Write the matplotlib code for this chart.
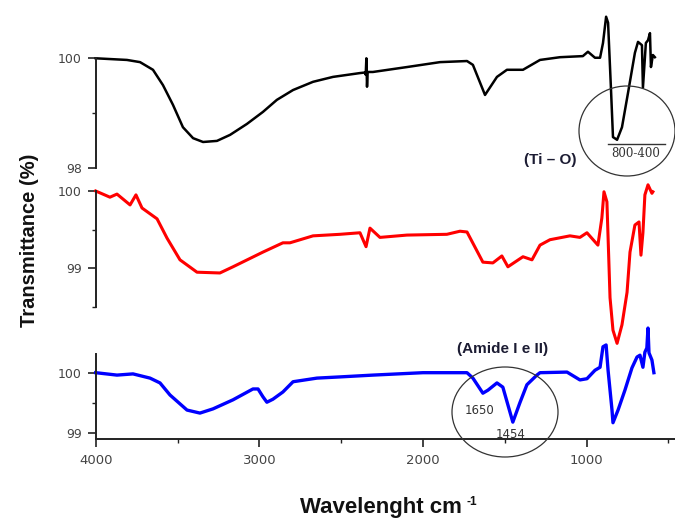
import matplotlib
matplotlib.use("Agg")
import matplotlib.pyplot as plt
from matplotlib.patches import Ellipse
from matplotlib.ticker import FixedLocator

# ---------------- data ----------------
wn_black = [4000, 3809, 3729, 3650, 3589, 3528, 3467, 3405, 3344, 3259, 3179, 3076,
            2978, 2893, 2794, 2672, 2550, 2385, 2355, 2350, 2346, 2342, 2338, 2306,
            2098, 1896, 1731, 1695, 1621, 1548, 1487, 1389, 1285, 1163, 1023, 992,
            949, 918, 900, 881, 869, 851, 839, 814, 784, 747, 705, 686, 662, 656,
            638, 625, 613, 607, 595, 583]
t_black = [100.00, 99.97, 99.93, 99.79, 99.51, 99.15, 98.74, 98.54, 98.47, 98.49, 98.60, 98.80,
           99.02, 99.24, 99.42, 99.57, 99.66, 99.73, 99.74, 99.70, 100.00, 99.48, 99.75, 99.75,
           99.84, 99.93, 99.95, 99.88, 99.33, 99.66, 99.79, 99.79, 99.97, 100.02, 100.04, 100.12,
           100.01, 100.01, 100.28, 100.76, 100.65, 99.42, 98.56, 98.51, 98.74, 99.37, 100.10, 100.30,
           100.24, 99.46, 100.28, 100.33, 100.46, 99.84, 100.06, 100.02]

wn_red = [4000, 3913, 3870, 3790, 3754, 3717, 3625, 3564, 3485, 3381, 3241, 3161,
          2978, 2856, 2813, 2672, 2507, 2385, 2348, 2324, 2263, 2098, 1854, 1774,
          1731, 1634, 1573, 1518, 1481, 1389, 1334, 1285, 1224, 1102, 1041, 998,
          931, 907, 894, 876, 857, 839, 814, 784, 753, 735, 705, 680, 668, 656,
          644, 625, 601, 595]
t_red = [100.00, 99.92, 99.96, 99.82, 99.95, 99.78, 99.64, 99.39, 99.11, 98.95, 98.94, 99.02,
         99.21, 99.33, 99.33, 99.42, 99.44, 99.46, 99.28, 99.52, 99.40, 99.43, 99.44, 99.48,
         99.47, 99.08, 99.07, 99.16, 99.02, 99.15, 99.11, 99.30, 99.37, 99.42, 99.40, 99.46,
         99.30, 99.65, 99.99, 99.86, 98.62, 98.20, 98.03, 98.27, 98.69, 99.21, 99.56, 99.60,
         99.17, 99.46, 99.95, 100.08, 99.97, 99.99]

wn_blue = [4000, 3870, 3772, 3668, 3607, 3546, 3442, 3363, 3283, 3161, 3039, 3008,
           2978, 2954, 2917, 2856, 2794, 2648, 2507, 2306, 2000, 1731, 1695, 1634,
           1603, 1548, 1512, 1451, 1408, 1365, 1304, 1285, 1120, 1041, 998, 949,
           918, 900, 881, 869, 845, 839, 808, 766, 723, 692, 674, 656, 644, 632,
           625, 619, 601, 589]
t_blue = [100.00, 99.96, 99.98, 99.91, 99.83, 99.63, 99.38, 99.33, 99.40, 99.55, 99.73, 99.73,
          99.60, 99.51, 99.56, 99.68, 99.85, 99.91, 99.93, 99.96, 100.00, 100.00, 99.91, 99.66,
          99.71, 99.83, 99.76, 99.18, 99.50, 99.80, 99.96, 100.00, 100.01, 99.88, 99.90, 100.04,
          100.09, 100.43, 100.46, 100.04, 99.38, 99.17, 99.38, 99.71, 100.08, 100.26, 100.29, 100.09,
          100.34, 100.41, 100.74, 100.33, 100.21, 100.00]

x_major = [4000, 3000, 2000, 1000]
x_minor = [3500, 2500, 1500, 500]

# ---------------- figure ----------------
W, H = 675, 520
fig = plt.figure(figsize=(W / 100, H / 100), dpi=100)

def fx(px):
    return px / W

def fy(py):
    return 1 - py / H

left = fx(95.7)
width = 1 - left
XLIM = (4000, 460)
spine_col = "#222222"
tick_col = "#444444"

def make_axes(top_px, bot_px, ylim, yt_major, yt_minor, show_x=False):
    ax = fig.add_axes([left, fy(bot_px), width, (bot_px - top_px) / H])
    ax.set_xlim(*XLIM)
    ax.set_ylim(*ylim)
    for s in ["top", "right"]:
        ax.spines[s].set_visible(False)
    ax.spines["left"].set_color(spine_col)
    ax.spines["left"].set_linewidth(1.4)
    ax.yaxis.set_major_locator(FixedLocator(yt_major))
    ax.yaxis.set_minor_locator(FixedLocator(yt_minor))
    ax.set_yticklabels([f"{v:g}" for v in yt_major])
    ax.tick_params(axis="y", which="major", direction="out", length=6, width=1.2,
                   colors=spine_col, labelcolor=tick_col, labelsize=9, pad=4)
    ax.tick_params(axis="y", which="minor", direction="out", length=3, width=1.0,
                   colors=spine_col)
    if show_x:
        ax.spines["bottom"].set_color(spine_col)
        ax.spines["bottom"].set_linewidth(1.4)
        ax.xaxis.set_major_locator(FixedLocator(x_major))
        ax.xaxis.set_minor_locator(FixedLocator(x_minor))
        ax.set_xticklabels([str(v) for v in x_major])
        ax.tick_params(axis="x", which="major", direction="out", length=6, width=1.2,
                       colors=spine_col, labelcolor=tick_col, labelsize=9.5, pad=5)
        ax.tick_params(axis="x", which="minor", direction="out", length=3, width=1.0,
                       colors=spine_col)
    else:
        ax.spines["bottom"].set_visible(False)
        ax.set_xticks([])
    ax.patch.set_alpha(0)
    return ax

ax_top = make_axes(58.3, 167.7, (98, 100), [98, 100], [99])
ax_mid = make_axes(191, 307, (98.5, 100), [99, 100], [98.5, 99.5])
ax_bot = make_axes(354, 439, (98.9, 100.31), [99, 100], [99.5], show_x=True)

ax_top.plot(wn_black, t_black, color="black", lw=1.8, clip_on=False, solid_joinstyle="round")
ax_mid.plot(wn_red, t_red, color="#ff0000", lw=2.2, clip_on=False, solid_joinstyle="round")
ax_bot.plot(wn_blue, t_blue, color="#0000ff", lw=2.4, clip_on=False, solid_joinstyle="round")

# ---------------- labels ----------------
fig.text(fx(30), fy(240), "Transmittance (%)", rotation=90, ha="center", va="center",
         fontsize=14.5, fontweight="bold", family="Liberation Sans", color="#111111")
fig.text(fx(381), fy(508), "Wavelenght cm", ha="center", va="center",
         fontsize=16, fontweight="bold", family="Liberation Sans", color="#111111")
fig.text(fx(472), fy(502), "-1", ha="center", va="center",
         fontsize=8.5, fontweight="bold", family="Liberation Sans", color="#111111")

# ---------------- annotations ----------------
fig.text(fx(550), fy(160), "(Ti \u2013 O)", ha="center", va="center", fontsize=11,
         fontweight="bold", family="Liberation Sans", color="#1c1c33")
fig.add_artist(Ellipse((fx(627), fy(131)), 96 / W, 90 / H, transform=fig.transFigure,
                       fill=False, edgecolor="#333333", lw=0.9))
fig.add_artist(plt.Line2D([fx(608), fx(665)], [fy(144), fy(144)], transform=fig.transFigure,
                          color="#333333", lw=1.0))
fig.text(fx(636), fy(153.5), "800-400", ha="center", va="center", fontsize=8.5,
         family="DejaVu Serif", color="#333333")

fig.text(fx(503), fy(349), "(Amide I e II)", ha="center", va="center", fontsize=11,
         fontweight="bold", family="Liberation Sans", color="#1c1c33")
fig.add_artist(Ellipse((fx(505), fy(412)), 106 / W, 90 / H, transform=fig.transFigure,
                       fill=False, edgecolor="#333333", lw=0.9))
fig.text(fx(480), fy(410), "1650", ha="center", va="center", fontsize=8.5, color="#333333")
fig.text(fx(511), fy(434), "1454", ha="center", va="center", fontsize=8.5, color="#333333")

fig.savefig("out.png", dpi=100)
